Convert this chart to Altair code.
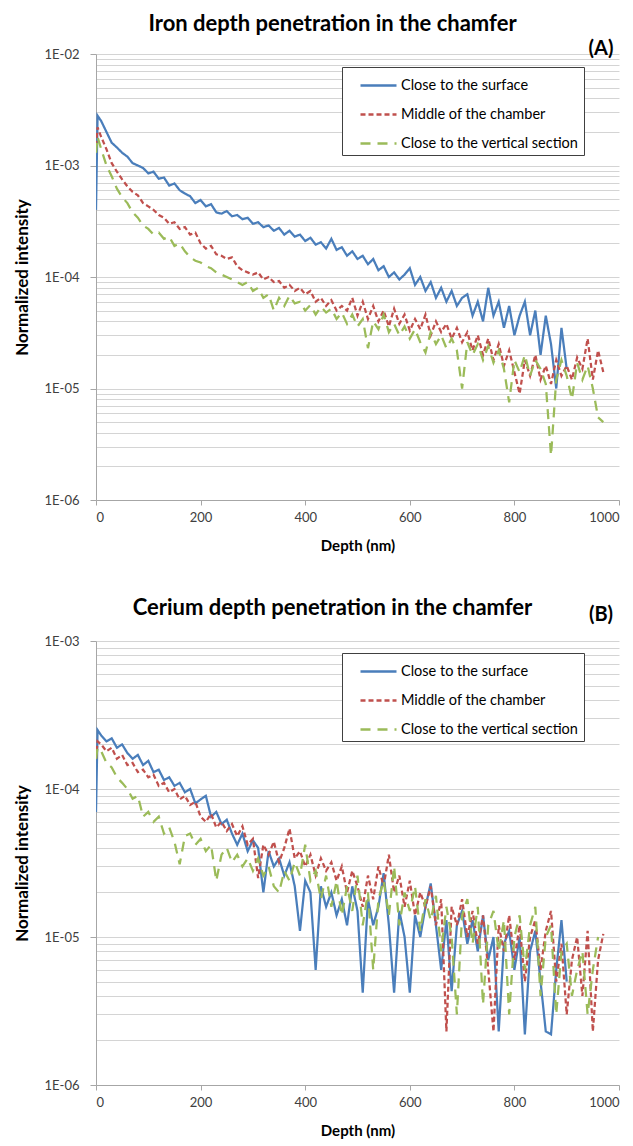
import altair as alt
import pandas as pd

DEPTH = [0, 3, 10, 20, 30, 40, 50, 60, 70, 80, 90, 100,
         110, 120, 130, 140, 150, 160, 170, 180, 190, 200,
         210, 220, 230, 240, 250, 260, 270, 280, 290, 300,
         310, 320, 330, 340, 350, 360, 370, 380, 390, 400,
         410, 420, 430, 440, 450, 460, 470, 480, 490, 500,
         510, 520, 530, 540, 550, 560, 570, 580, 590, 600,
         610, 620, 630, 640, 650, 660, 670, 680, 690, 700,
         710, 720, 730, 740, 750, 760, 770, 780, 790, 800,
         810, 820, 830, 840, 850, 860, 870, 880, 890, 900,
         910, 920, 930, 940, 950, 960, 970]

SERIES = ["Close to the surface", "Middle of the chamber", "Close to the vertical section"]
COLORS = ["#4a7ebb", "#c0504d", "#9bbb59"]
DASHES = [[1, 0], [5, 3], [10, 7]]

# Panel A: iron
IRON_SURFACE = [4.0e-4, 2.8e-3,
    2.5e-3, 2.0e-3, 1.6e-3, 1.45e-3, 1.3e-3, 1.2e-3, 1.05e-3, 1.0e-3, 9.5e-4, 8.5e-4,
    8.8e-4, 7.6e-4, 7.8e-4, 6.6e-4, 6.9e-4, 6.0e-4, 5.6e-4, 5.3e-4, 4.6e-4, 4.9e-4,
    4.3e-4, 4.5e-4, 3.8e-4, 3.7e-4, 3.9e-4, 3.5e-4, 3.6e-4, 3.3e-4, 3.4e-4, 3.0e-4,
    3.1e-4, 2.8e-4, 2.9e-4, 2.6e-4, 2.75e-4, 2.4e-4, 2.6e-4, 2.3e-4, 2.4e-4, 2.1e-4,
    2.25e-4, 1.95e-4, 2.05e-4, 1.8e-4, 2.2e-4, 1.75e-4, 1.85e-4, 1.55e-4, 1.7e-4, 1.45e-4,
    1.55e-4, 1.3e-4, 1.45e-4, 1.15e-4, 1.25e-4, 1.0e-4, 1.1e-4, 9.5e-5, 1.05e-4, 1.2e-4,
    8.5e-5, 1.0e-4, 7.5e-5, 9.0e-5, 6.5e-5, 8.0e-5, 6.0e-5, 7.5e-5, 5.5e-5, 6.5e-5,
    7.0e-5, 4.5e-5, 6.0e-5, 4.0e-5, 8.0e-5, 4.5e-5, 6.0e-5, 3.5e-5, 5.5e-5, 3.0e-5,
    4.5e-5, 6.0e-5, 3.0e-5, 5.0e-5, 2.0e-5, 4.5e-5, 2.5e-5, 1.0e-5, 3.5e-5, 1.5e-5]
IRON_MIDDLE = [1.5e-3, 2.2e-3,
    1.8e-3, 1.4e-3, 1.05e-3, 8.8e-4, 7.5e-4, 6.5e-4, 5.8e-4, 5.4e-4, 4.6e-4, 4.3e-4,
    4.0e-4, 3.6e-4, 3.4e-4, 3.0e-4, 3.1e-4, 2.7e-4, 2.8e-4, 2.4e-4, 2.5e-4, 2.0e-4,
    1.8e-4, 1.9e-4, 1.6e-4, 1.55e-4, 1.45e-4, 1.5e-4, 1.25e-4, 1.15e-4, 1.1e-4, 1.05e-4,
    1.1e-4, 9.5e-5, 1.0e-4, 9.0e-5, 9.2e-5, 8.0e-5, 8.5e-5, 7.5e-5, 8.0e-5, 7.0e-5,
    7.5e-5, 6.0e-5, 6.5e-5, 5.5e-5, 6.2e-5, 5.0e-5, 5.5e-5, 5.0e-5, 6.5e-5, 4.5e-5,
    6.0e-5, 4.2e-5, 5.5e-5, 4.0e-5, 5.0e-5, 3.6e-5, 5.2e-5, 3.8e-5, 4.6e-5, 3.3e-5,
    4.2e-5, 3.4e-5, 4.6e-5, 3.0e-5, 4.0e-5, 3.2e-5, 3.8e-5, 2.8e-5, 3.5e-5, 2.6e-5,
    3.2e-5, 2.2e-5, 3.0e-5, 2.0e-5, 2.8e-5, 1.8e-5, 2.5e-5, 1.6e-5, 2.2e-5, 1.4e-5,
    9.0e-6, 1.8e-5, 1.3e-5, 2.0e-5, 1.2e-5, 1.6e-5, 1.1e-5, 1.8e-5, 1.3e-5, 1.6e-5,
    1.2e-5, 1.9e-5, 1.5e-5, 2.8e-5, 1.2e-5, 2.2e-5, 1.4e-5]
IRON_VERTICAL = [1.3e-3, 1.8e-3,
    1.4e-3, 1.0e-3, 8.0e-4, 6.2e-4, 5.2e-4, 4.6e-4, 3.8e-4, 3.4e-4, 2.9e-4, 2.7e-4,
    2.4e-4, 2.5e-4, 2.2e-4, 2.3e-4, 1.9e-4, 2.0e-4, 1.7e-4, 1.5e-4, 1.4e-4, 1.35e-4,
    1.25e-4, 1.2e-4, 1.1e-4, 1.05e-4, 1.0e-4, 9.5e-5, 9.0e-5, 8.5e-5, 9.0e-5, 7.5e-5,
    8.0e-5, 6.5e-5, 7.0e-5, 5.0e-5, 6.5e-5, 5.5e-5, 6.8e-5, 5.8e-5, 6.0e-5, 5.0e-5,
    5.6e-5, 4.6e-5, 5.4e-5, 4.8e-5, 5.2e-5, 4.2e-5, 4.8e-5, 3.8e-5, 4.6e-5, 3.6e-5,
    4.2e-5, 2.3e-5, 4.0e-5, 3.4e-5, 4.6e-5, 3.2e-5, 3.8e-5, 3.0e-5, 3.6e-5, 2.8e-5,
    3.4e-5, 2.6e-5, 2.1e-5, 3.2e-5, 2.5e-5, 3.0e-5, 2.3e-5, 2.8e-5, 2.2e-5, 1.0e-5,
    2.6e-5, 2.0e-5, 2.5e-5, 1.8e-5, 2.4e-5, 1.7e-5, 2.2e-5, 1.5e-5, 7.5e-6, 1.8e-5,
    1.4e-5, 2.0e-5, 1.3e-5, 1.8e-5, 1.5e-5, 1.1e-5, 2.5e-6, 1.2e-5, 1.8e-5, 1.3e-5,
    8.0e-6, 1.7e-5, 1.2e-5, 1.6e-5, 1.0e-5, 5.5e-6, 5.0e-6]

# Panel B: cerium
CERIUM_SURFACE = [7.0e-5, 2.5e-4,
    2.3e-4, 2.1e-4, 2.2e-4, 1.9e-4, 2.0e-4, 1.75e-4, 1.6e-4, 1.7e-4, 1.45e-4, 1.55e-4,
    1.3e-4, 1.35e-4, 1.15e-4, 1.2e-4, 1.05e-4, 1.1e-4, 9.5e-5, 1.0e-4, 8.0e-5, 8.5e-5,
    9.0e-5, 6.5e-5, 7.0e-5, 5.8e-5, 6.2e-5, 5.0e-5, 4.2e-5, 5.0e-5, 3.8e-5, 4.5e-5,
    4.0e-5, 2.0e-5, 3.8e-5, 3.0e-5, 3.4e-5, 2.6e-5, 3.2e-5, 2.2e-5, 1.1e-5, 2.4e-5,
    2.0e-5, 6.0e-6, 2.2e-5, 1.6e-5, 2.0e-5, 1.4e-5, 1.8e-5, 1.2e-5, 2.2e-5, 1.5e-5,
    4.2e-6, 1.8e-5, 1.2e-5, 1.6e-5, 2.7e-5, 1.2e-5, 4.2e-6, 1.5e-5, 1.0e-5, 4.2e-6,
    1.4e-5, 1.0e-5, 1.6e-5, 2.3e-5, 1.2e-5, 6.0e-6, 1.3e-5, 4.3e-6, 1.2e-5, 1.5e-5,
    9.0e-6, 1.3e-5, 8.0e-6, 1.4e-5, 7.0e-6, 1.0e-5, 2.3e-6, 9.0e-6, 1.1e-5, 6.0e-6,
    1.0e-5, 2.2e-6, 8.0e-6, 1.1e-5, 5.0e-6, 2.3e-6, 2.2e-6, 6.0e-6, 1.3e-5, 5.0e-6]
CERIUM_MIDDLE = [1.6e-4, 2.1e-4,
    2.0e-4, 1.8e-4, 1.9e-4, 1.6e-4, 1.7e-4, 1.45e-4, 1.5e-4, 1.3e-4, 1.35e-4, 1.2e-4,
    1.25e-4, 1.05e-4, 1.1e-4, 9.5e-5, 1.0e-4, 8.5e-5, 9.0e-5, 7.8e-5, 8.2e-5, 6.5e-5,
    6.0e-5, 6.8e-5, 5.5e-5, 6.0e-5, 5.2e-5, 5.8e-5, 4.8e-5, 5.6e-5, 4.2e-5, 4.6e-5,
    2.5e-5, 4.2e-5, 3.6e-5, 4.4e-5, 3.2e-5, 4.0e-5, 5.4e-5, 3.4e-5, 3.8e-5, 3.0e-5,
    3.6e-5, 2.6e-5, 3.4e-5, 2.8e-5, 3.2e-5, 2.4e-5, 3.0e-5, 2.0e-5, 2.8e-5, 2.2e-5,
    1.6e-5, 2.6e-5, 1.8e-5, 3.0e-5, 2.2e-5, 3.6e-5, 2.0e-5, 2.6e-5, 1.6e-5, 2.4e-5,
    1.4e-5, 2.0e-5, 1.6e-5, 2.2e-5, 1.2e-5, 1.8e-5, 2.3e-6, 1.6e-5, 1.2e-5, 1.8e-5,
    1.0e-5, 1.5e-5, 9.0e-6, 1.4e-5, 6.0e-6, 2.3e-6, 1.2e-5, 8.0e-6, 1.4e-5, 7.0e-6,
    1.2e-5, 5.0e-6, 1.0e-5, 1.3e-5, 6.0e-6, 1.1e-5, 1.5e-5, 5.0e-6, 9.0e-6, 3.0e-6,
    7.0e-6, 1.0e-5, 4.0e-6, 1.1e-5, 2.3e-6, 7.0e-6, 1.05e-5]
CERIUM_VERTICAL = [1.6e-4, 1.9e-4,
    1.8e-4, 1.5e-4, 1.4e-4, 1.2e-4, 1.1e-4, 1.0e-4, 8.6e-5, 9.0e-5, 6.5e-5, 7.0e-5,
    6.0e-5, 6.5e-5, 5.0e-5, 5.5e-5, 4.4e-5, 3.1e-5, 4.8e-5, 5.0e-5, 4.2e-5, 4.6e-5,
    3.8e-5, 4.2e-5, 2.4e-5, 3.6e-5, 4.0e-5, 3.2e-5, 3.6e-5, 3.0e-5, 3.4e-5, 2.8e-5,
    3.4e-5, 2.6e-5, 3.0e-5, 2.2e-5, 2.0e-5, 2.8e-5, 2.4e-5, 3.2e-5, 2.6e-5, 4.2e-5,
    2.4e-5, 2.8e-5, 1.8e-5, 2.6e-5, 1.6e-5, 2.4e-5, 1.4e-5, 2.2e-5, 1.5e-5, 2.6e-5,
    1.2e-5, 2.0e-5, 6.0e-6, 1.8e-5, 2.4e-5, 1.4e-5, 3.0e-5, 1.2e-5, 2.0e-5, 1.5e-5,
    2.2e-5, 1.1e-5, 1.8e-5, 1.3e-5, 1.9e-5, 8.0e-6, 1.6e-5, 1.0e-5, 3.0e-6, 1.4e-5,
    1.8e-5, 9.0e-6, 1.6e-5, 3.5e-6, 1.2e-5, 1.5e-5, 8.0e-6, 1.3e-5, 3.0e-6, 1.0e-5,
    1.4e-5, 6.0e-6, 1.2e-5, 1.6e-5, 4.0e-6, 1.0e-5, 1.2e-5, 3.0e-6, 8.0e-6, 9.0e-6,
    4.0e-6, 6.0e-6, 8.0e-6, 3.0e-6, 6.0e-6, 1.0e-5]

X_TICKS = [0, 200, 400, 600, 800, 1000]
FONT = "Lato"
MAJOR = "abs(log(datum.value)/LN10 - round(log(datum.value)/LN10)) < 0.001"


def frame(series_values):
    rows = []
    for name, vals in zip(SERIES, series_values):
        for d, v in zip(DEPTH, vals):
            rows.append({"depth": d, "intensity": v, "series": name})
    return pd.DataFrame(rows)


def grid_values(lo_exp, hi_exp):
    vals = []
    for e in range(lo_exp, hi_exp):
        for k in range(1, 10):
            vals.append(float(f"{k}e{e}"))
    vals.append(float(f"1e{hi_exp}"))
    return vals


def panel(df, lo_exp, hi_exp, title, tag, height, legend_y, title_offset, tag_y):
    legend = alt.Legend(
        orient="none", legendX=246, legendY=legend_y, title=None,
        symbolType="M-1.5,0H1.5", symbolSize=576, symbolStrokeWidth=2.5, symbolOffset=18,
        labelFont=FONT, labelFontSize=14.5, labelColor="#000000", labelOffset=9,
        labelLimit=400, strokeColor="#404040", fillColor="#ffffff", padding=5, rowPadding=9,
    )
    lines = alt.Chart(df).mark_line(strokeWidth=2.25, clip=True).encode(
        x=alt.X("depth:Q", scale=alt.Scale(domain=[0, 1000], nice=False),
                axis=alt.Axis(values=X_TICKS, format="d", grid=False, tickSize=5, tickColor="#a6a6a6",
                              domainColor="#a6a6a6", labelFont=FONT, labelFontSize=13,
                              labelColor="#404040", labelPadding=6,
                              title="Depth (nm)", titleFont=FONT, titleFontSize=15,
                              titleFontWeight="bold", titleColor="#000000", titlePadding=14)),
        y=alt.Y("intensity:Q",
                scale=alt.Scale(type="log", domain=[float(f"1e{lo_exp}"), float(f"1e{hi_exp}")], nice=False),
                axis=alt.Axis(values=grid_values(lo_exp, hi_exp), grid=True, gridColor="#d4d4d4",
                              gridWidth=1, tickSize=6, tickColor="#a6a6a6",
                              tickOpacity={"condition": {"test": MAJOR, "value": 1}, "value": 0},
                              domainColor="#a6a6a6", labelOverlap=False, labelBound=False,
                              labelExpr=f"({MAJOR}) ? '1E-0' + (-round(log(datum.value)/LN10)) : ''",
                              labelFont=FONT, labelFontSize=13, labelColor="#404040", labelPadding=11,
                              title="Normalized intensity", titleFont=FONT, titleFontSize=17,
                              titleFontWeight="bold", titleColor="#000000", titlePadding=13)),
        color=alt.Color("series:N", scale=alt.Scale(domain=SERIES, range=COLORS), legend=legend),
        strokeDash=alt.StrokeDash("series:N", scale=alt.Scale(domain=SERIES, range=DASHES), legend=legend),
        order=alt.Order("depth:Q"),
    )
    tag_mark = alt.Chart(pd.DataFrame({"label": [tag]})).mark_text(
        font=FONT, fontSize=20, fontWeight="bold", align="center", baseline="middle", color="#000000"
    ).encode(text="label:N", x=alt.value(505), y=alt.value(tag_y))
    return alt.layer(lines, tag_mark).properties(
        width=523, height=height,
        title=alt.TitleParams(title, font=FONT, fontSize=22, fontWeight="bold", anchor="middle",
                              dx=-25, offset=title_offset, color="#000000"),
    )


df_a = frame([IRON_SURFACE, IRON_MIDDLE, IRON_VERTICAL])
df_b = frame([CERIUM_SURFACE, CERIUM_MIDDLE, CERIUM_VERTICAL])

top = panel(df_a, -6, -2, "Iron depth penetration in the chamfer", "(A)", 446, 13, 3, -5)
bottom = panel(df_b, -6, -3, "Cerium depth penetration in the chamfer", "(B)", 444, 12, -15, -26)

chart = alt.vconcat(top, bottom, spacing=44).resolve_scale(
    color="independent", strokeDash="independent"
).configure_view(stroke=None).properties(
    padding={"left": 5, "top": 5, "right": 0, "bottom": 5}, background="#ffffff"
)

chart.save("out.html", embed_options={"renderer": "svg", "actions": False})
